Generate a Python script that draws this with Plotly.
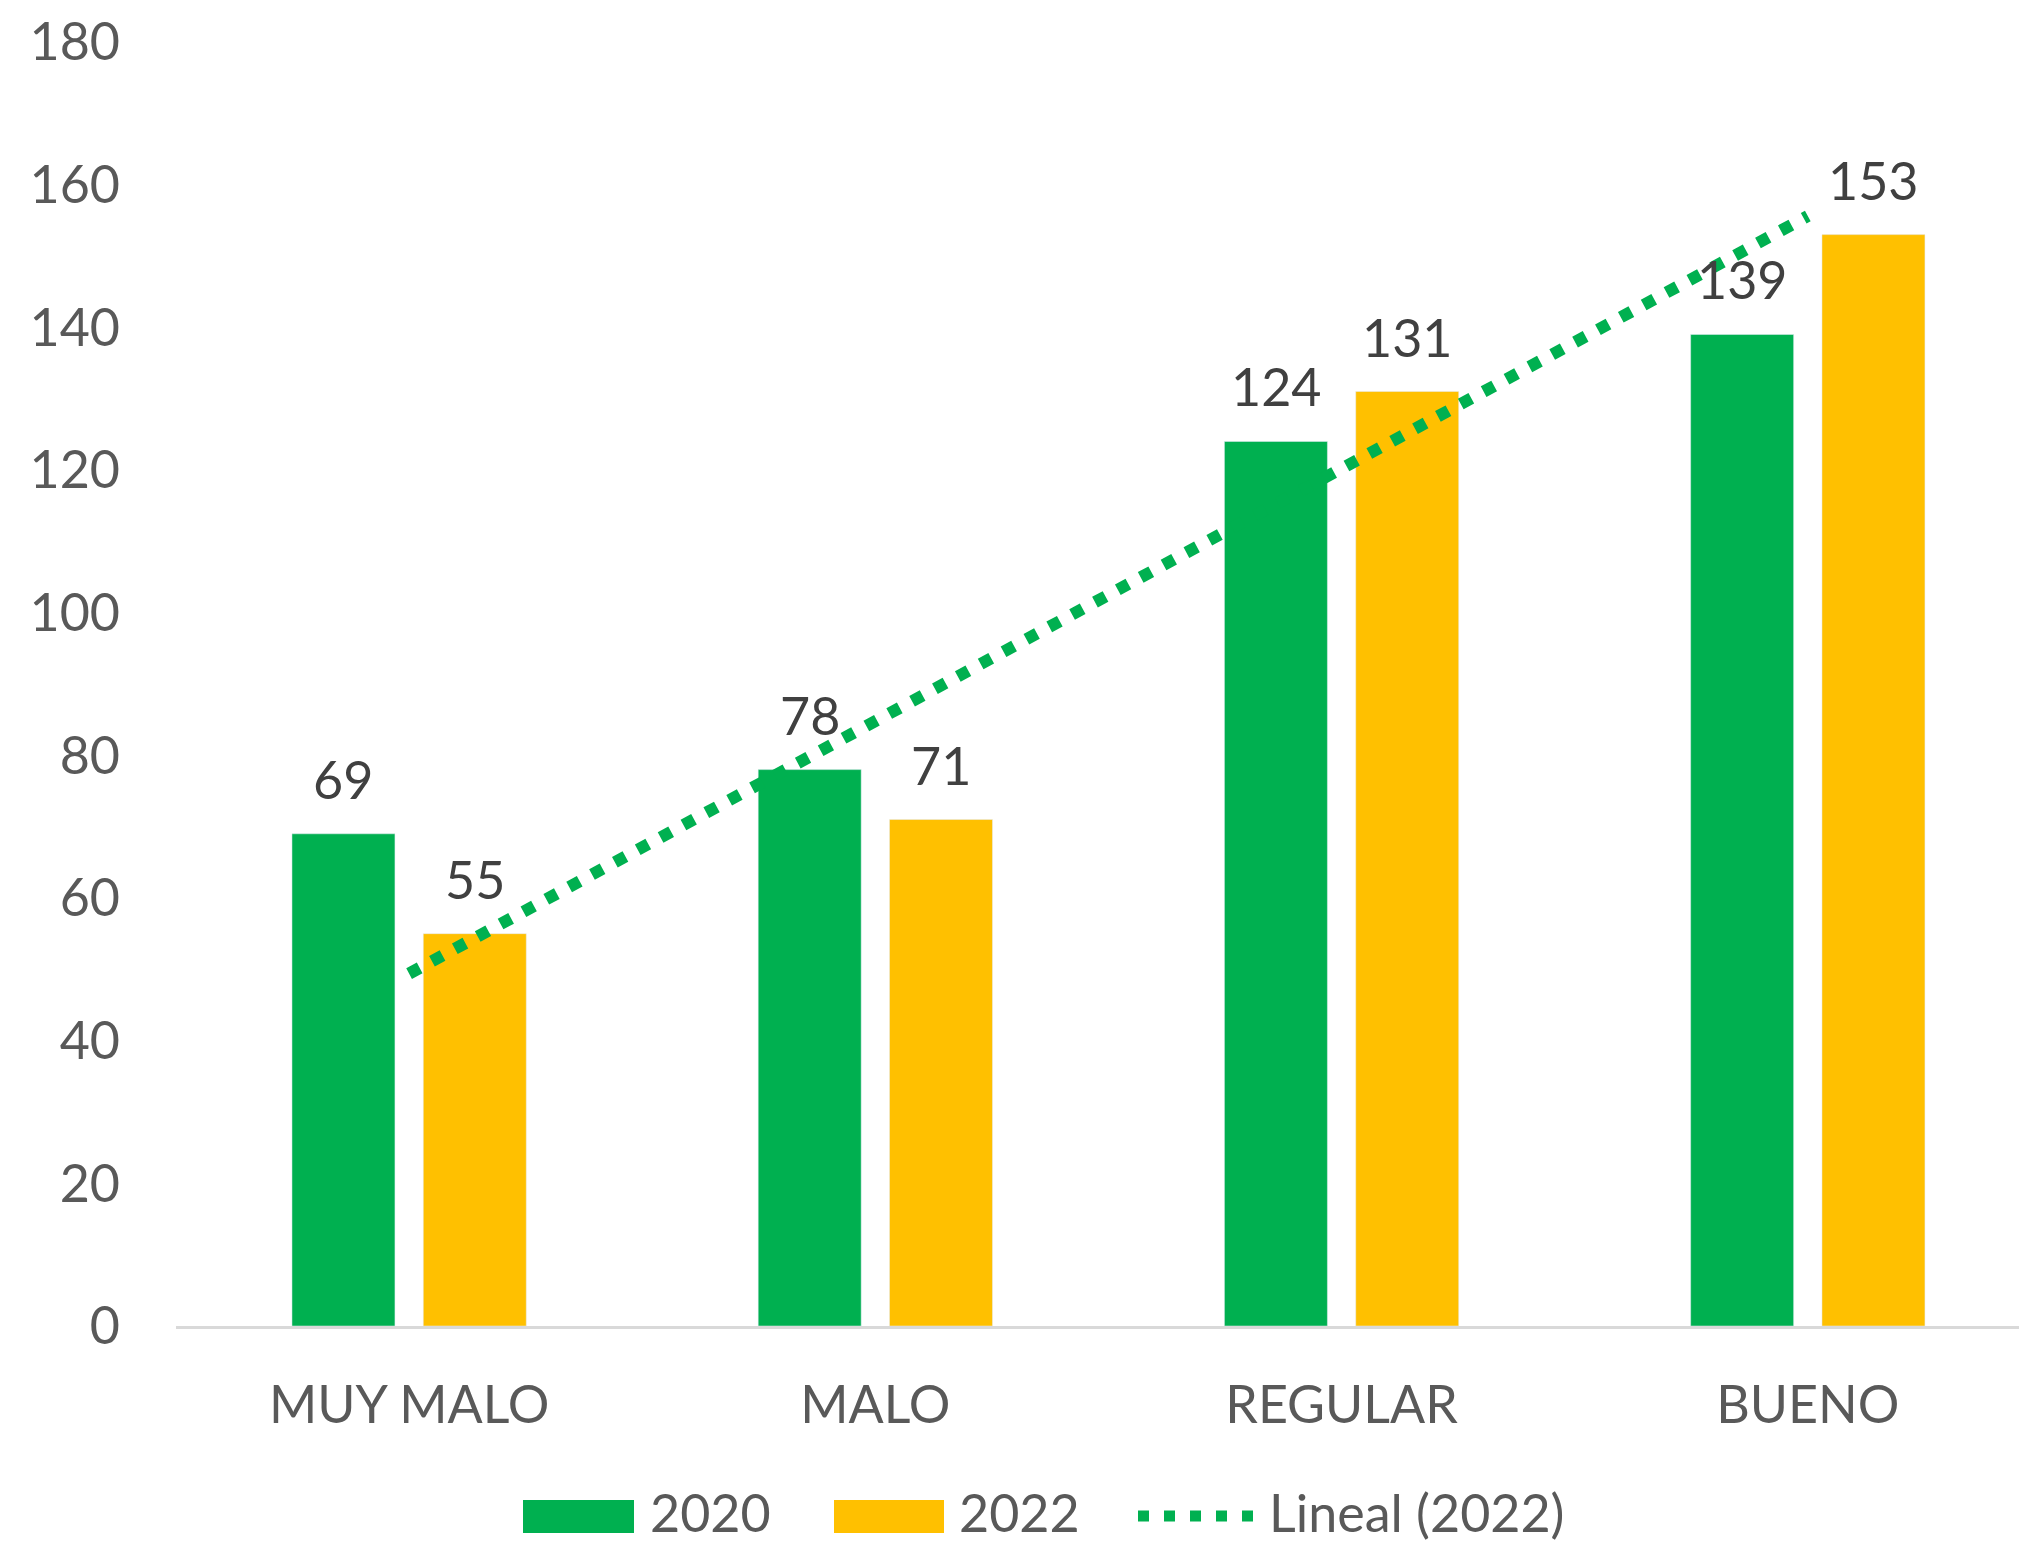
import numpy as np
import plotly.graph_objects as go

categories = ["MUY MALO", "MALO", "REGULAR", "BUENO"]
values_2020 = [69, 78, 124, 139]
values_2022 = [55, 71, 131, 153]
y_ticks = [0, 20, 40, 60, 80, 100, 120, 140, 160, 180]
series_names = ["2020", "2022", "Lineal (2022)"]

GREEN = "#00B050"
YELLOW = "#FFC000"
TICK_COLOR = "#595959"
LABEL_COLOR = "#404040"
FONT = "Lato"
FS = 52

W, H = 2019, 1547
L, R, T, B = 176, 0, 42, 221
PW = W - L - R
PH = H - T - B

# linear trendline of 2022 series (Excel "Lineal")
xi = np.arange(1, len(values_2022) + 1)
slope, intercept = np.polyfit(xi, values_2022, 1)
trend = slope * xi + intercept

fig = go.Figure()
fig.add_bar(x=categories, y=values_2020, name=series_names[0], marker_color=GREEN, showlegend=False)
fig.add_bar(x=categories, y=values_2022, name=series_names[1], marker_color=YELLOW, showlegend=False)
fig.add_scatter(x=categories, y=trend, mode="lines", name=series_names[2],
                line=dict(color=GREEN, width=12, dash="12px,14px"), showlegend=False)

# data labels
slot_px = 131.3
annotations = []
for vals, sh in ((values_2020, -slot_px / 2), (values_2022, slot_px / 2)):
    for c, v in zip(categories, vals):
        annotations.append(dict(x=c, y=v, text=str(v), showarrow=False, xshift=sh, yshift=55,
                                yanchor="middle", xanchor="center",
                                font=dict(family=FONT, size=FS, color=LABEL_COLOR)))

def pxx(p):
    return (p - L) / PW

def pxy(p):
    return (H - B - p) / PH

# manual legend
LY = -4  # small vertical nudge so legend text stays inside the page
shapes = [
    dict(type="rect", xref="paper", yref="paper", x0=pxx(523), x1=pxx(634), y0=pxy(1537 + LY), y1=pxy(1504 + LY),
         fillcolor=GREEN, line=dict(width=0)),
    dict(type="rect", xref="paper", yref="paper", x0=pxx(834), x1=pxx(944), y0=pxy(1537 + LY), y1=pxy(1504 + LY),
         fillcolor=YELLOW, line=dict(width=0)),
    dict(type="line", xref="paper", yref="paper", x0=pxx(1138), x1=pxx(1256), y0=pxy(1520 + LY), y1=pxy(1520 + LY),
         line=dict(color=GREEN, width=11, dash="11px,15px")),
]
for xpos, txt in ((648, series_names[0]), (957, series_names[1]), (1267, series_names[2])):
    annotations.append(dict(xref="paper", yref="paper", x=pxx(xpos), y=pxy(1516 + LY), text=txt,
                            showarrow=False, xanchor="left", yanchor="middle",
                            font=dict(family=FONT, size=FS, color=TICK_COLOR)))

fig.update_layout(
    width=W, height=H,
    margin=dict(l=L, r=R, t=T, b=B, pad=0),
    paper_bgcolor="white", plot_bgcolor="white",
    barmode="group", bargap=0.4367, bargroupgap=0.2157,
    font=dict(family=FONT, size=FS, color=TICK_COLOR),
    annotations=annotations, shapes=shapes,
    xaxis=dict(range=[-0.5, 3.453], showgrid=False, showline=True, linecolor="#D9D9D9", linewidth=3,
               ticks="", ticklabelstandoff=32, tickfont=dict(family=FONT, size=FS, color=TICK_COLOR),
               zeroline=False),
    yaxis=dict(range=[0, 180], tickvals=y_ticks, showgrid=False, showline=False, zeroline=False,
               ticks="", ticklabelstandoff=55, tickfont=dict(family=FONT, size=FS, color=TICK_COLOR)),
    showlegend=False,
)

fig.write_html("out.html", config={"displayModeBar": False},
               post_script="document.body.style.margin='0';document.body.style.overflow='hidden';")
